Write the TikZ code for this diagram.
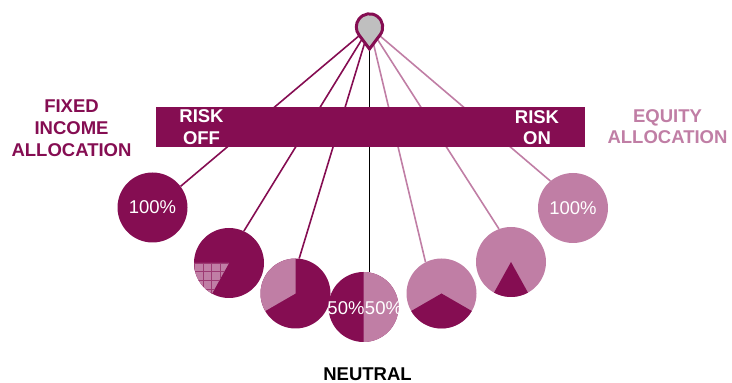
\documentclass[tikz,border=0pt]{standalone}
\usepackage{fontspec}
\setmainfont{Liberation Sans}
\definecolor{plum}{HTML}{850D52}
\definecolor{rose}{HTML}{C07EA5}
\definecolor{pingray}{HTML}{BFBFBF}
\tikzset{
  ball/.style={circle,minimum size=70pt,inner sep=0pt,text=white,font=\fontsize{18.5}{21.6}\selectfont},
  pct/.style={inner sep=0pt,text=white,font=\fontsize{18.5}{21.6}\selectfont},
  lbl/.style={inner sep=0pt,align=center,font=\fontsize{18.5}{21.6}\selectfont\bfseries},
  rod/.style={line width=1.6pt},
  bar/.style={fill=plum,minimum width=429pt,minimum height=40pt,inner sep=0pt}
}

\begin{document}
\begin{tikzpicture}[x=1pt,y=1pt]
  \useasboundingbox (0,0) rectangle (732,383);
  \coordinate (pin) at (369.5,356);
  \coordinate (tip) at (369.5,334);
  \node[ball,fill=plum] (c1) at (152.5,175.5) {100\%};
  \node[ball,fill=plum] (c2) at (229,120) {};
  \node[ball,fill=plum] (c3) at (295.5,89.5) {};
  \node[ball,fill=plum] (c4) at (363.5,76) {};
  \node[ball,fill=rose] (c5) at (441.5,89.5) {};
  \node[ball,fill=rose] (c6) at (511,121) {};
  \node[ball,fill=rose] (c7) at (573,175) {100\%};
  \begin{scope}[shift={(c2)}]
    \fill[rose] (0,0) -- (180:35) arc[start angle=180,end angle=241,radius=35] -- cycle;
    \clip (0,0) -- (180:35) arc[start angle=180,end angle=241,radius=35] -- cycle;
    \draw[plum!60!rose,line width=0.7pt,step=8.7] (-35,-35) grid (0,0);
  \end{scope}
  \begin{scope}[shift={(c3)}]
    \fill[rose] (0,0) -- (90:35) arc[start angle=90,end angle=210,radius=35] -- cycle;
  \end{scope}
  \begin{scope}[shift={(c4)}]
    \fill[rose] (0,-35) arc[start angle=-90,end angle=90,radius=35] -- cycle;
  \end{scope}
  \begin{scope}[shift={(c5)}]
    \fill[plum] (0,0) -- (210:35) arc[start angle=210,end angle=330,radius=35] -- cycle;
  \end{scope}
  \begin{scope}[shift={(c6)}]
    \fill[plum] (0,0) -- (241:35) arc[start angle=241,end angle=299,radius=35] -- cycle;
  \end{scope}
  \node[pct] (l50) at (346,75.3) {50\%};
  \node[pct] (r50) at (383.5,75.3) {50\%};
  \draw[rod,plum] (pin) -- (c1.37.6);
  \draw[rod,plum] (pin) -- (c2.65.9);
  \draw[rod,plum] (pin) -- (c3.84.3);
  \draw[rod,black,line width=1.8pt] (pin) -- (pin |- c4.north);
  \draw[rod,rose] (pin) -- (c5.117.3);
  \draw[rod,rose] (pin) -- (c6.110);
  \draw[rod,rose] (pin) -- (c7.130.8);
  \node[bar] (beam) at (370.5,256) {};
  \node[lbl,text=white] (off) at (201.5,255.6) {RISK\\OFF};
  \node[lbl,text=white] (on) at (537,255.5) {RISK\\ON};
  \node[lbl,text=plum] (fixed) at (71.5,254.7) {FIXED\\INCOME\\ALLOCATION};
  \node[lbl,text=rose] (equity) at (667.5,256.3) {EQUITY\\ALLOCATION};
  \node[lbl,text=black] (neutral) at (367.5,9) {NEUTRAL};
  \filldraw[draw=plum,fill=pingray,line width=3pt]
    ([shift={(-36.9:13.2)}]pin) arc[start angle=-36.9,end angle=216.9,radius=13.2] -- (tip) -- cycle;
\end{tikzpicture}
\end{document}
